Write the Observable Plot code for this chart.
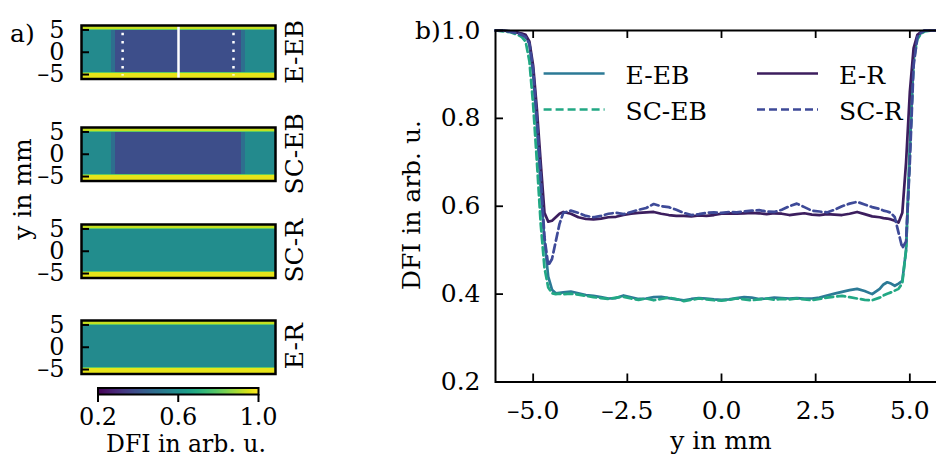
<!DOCTYPE html>
<html><head><meta charset="utf-8">
<script src="https://cdn.jsdelivr.net/npm/d3@7"></script>
<script src="https://cdn.jsdelivr.net/npm/@observablehq/plot@0.6"></script>
<style>
html,body{margin:0;padding:0;background:#fff;overflow:hidden}
#wrap{position:relative;width:936px;height:457px;overflow:hidden;font-family:"DejaVu Serif",serif;background:#fff}
#wrap svg{position:absolute}
</style></head><body><div id="wrap"></div>
<script>
// ---------- panel a data (heat-map strips) ----------
const stripNames = ["E-EB", "SC-EB", "SC-R", "E-R"];
const stripColEdges = [-21.7, -14.9, -14.1, 14.1, 14.9, 21.7];   // along the strip (mm)
const stripRowEdges = [-6, -4.8, -4.5, 4.9, 5.2, 6];             // y in mm
const stripRowBand = [0.97, 0.8, null, 0.8, 0.93];               // DFI of edge bands (null = sample body)
const bodyEEB = [0.58, 0.49, 0.39, 0.49, 0.58];
const bodySCEB = [0.58, 0.49, 0.39, 0.49, 0.58];
const bodySCR = [0.59, 0.59, 0.59, 0.59, 0.59];
const bodyER = [0.58, 0.58, 0.58, 0.58, 0.58];
const stripTicks = [5, 0, -5];
const profileLine = [0];            // solid white marker in E-EB
const markerLines = [-12.5, 12.3];  // dotted white markers in E-EB
const colorbarTicks = [0.2, 0.6, 1.0];

// ---------- panel b data (profiles) ----------
const xs = [-6.0,-5.8,-5.6,-5.4,-5.3,
  -5.2,-5.1,-5.0,-4.9,-4.8,-4.7,-4.6,-4.5,-4.4,-4.3,-4.2,
  -4.0,-3.8,-3.6,-3.4,-3.2,-3.0,-2.8,-2.6,-2.4,-2.2,-2.0,-1.8,-1.6,-1.4,-1.2,-1.0,-0.8,-0.6,-0.4,-0.2,
  0.0,0.2,0.4,0.6,0.8,1.0,1.2,1.4,1.6,1.8,2.0,2.2,2.4,2.6,2.8,3.0,3.2,3.4,3.6,3.8,4.0,
  4.2,4.3,4.4,4.5,4.6,4.7,4.8,4.9,5.0,5.1,5.2,
  5.3,5.4,5.6,5.8,6.0];
const eEB = [1.0,1.0,0.998,0.995,0.992,
  0.988,0.97,0.90,0.78,0.64,0.52,0.44,0.41,0.402,0.403,0.404,
  0.406,0.402,0.398,0.396,0.393,0.390,0.391,0.397,0.393,0.389,0.390,0.393,0.394,0.391,0.388,0.386,0.389,0.391,0.390,0.388,
  0.387,0.388,0.391,0.393,0.392,0.389,0.390,0.392,0.391,0.390,0.391,0.390,0.390,0.392,0.397,0.401,0.405,0.409,0.412,0.407,0.400,
  0.412,0.422,0.427,0.424,0.419,0.424,0.43,0.50,0.74,0.94,0.985,
  0.995,1.0,1.0,1.0,1.0];
const scEB = [1.0,0.998,0.996,0.99,0.985,
  0.975,0.93,0.83,0.70,0.56,0.46,0.415,0.402,0.400,0.401,0.400,
  0.401,0.399,0.396,0.393,0.391,0.389,0.392,0.394,0.390,0.387,0.390,0.386,0.389,0.392,0.389,0.384,0.387,0.390,0.388,0.386,
  0.385,0.387,0.390,0.388,0.386,0.388,0.390,0.387,0.389,0.388,0.390,0.388,0.386,0.389,0.392,0.394,0.396,0.393,0.390,0.387,0.386,
  0.392,0.397,0.401,0.404,0.408,0.412,0.425,0.50,0.72,0.93,0.98,
  0.993,0.998,1.0,1.0,1.0];
const eR = [1.0,1.0,0.998,0.995,0.993,
  0.99,0.975,0.92,0.82,0.70,0.585,0.565,0.567,0.575,0.583,0.587,
  0.583,0.575,0.571,0.570,0.572,0.575,0.576,0.580,0.583,0.585,0.586,0.587,0.583,0.580,0.578,0.578,0.577,0.579,0.578,0.580,
  0.583,0.584,0.583,0.584,0.585,0.584,0.582,0.584,0.583,0.580,0.582,0.584,0.581,0.580,0.582,0.581,0.580,0.583,0.587,0.582,0.577,
  0.575,0.573,0.572,0.570,0.567,0.563,0.585,0.70,0.86,0.96,0.99,
  0.997,1.0,1.0,1.0,1.0];
const scR = [1.0,1.0,0.997,0.993,0.99,
  0.985,0.97,0.91,0.80,0.67,0.53,0.465,0.48,0.52,0.56,0.585,
  0.590,0.585,0.578,0.575,0.578,0.583,0.585,0.582,0.587,0.592,0.596,0.605,0.600,0.598,0.592,0.585,0.580,0.582,0.585,0.586,
  0.585,0.587,0.586,0.588,0.590,0.591,0.588,0.587,0.592,0.600,0.606,0.598,0.590,0.588,0.586,0.592,0.600,0.606,0.610,0.604,0.598,
  0.594,0.590,0.588,0.585,0.575,0.54,0.505,0.52,0.70,0.92,0.985,
  0.995,1.0,1.0,1.0,1.0];
const seriesNames = ["E-EB", "SC-EB", "E-R", "SC-R"];
const seriesValues = [eEB, scEB, eR, scR];
const seriesColors = ["#2c7a96", "#22a884", "#3c1e5e", "#3e4a98"];
const seriesDash = [null, "8,4", null, "8,4"];
const xTicks = [-5, -2.5, 0, 2.5, 5];
const yTicks = [0.2, 0.4, 0.6, 0.8, 1.0];

const wrap = document.getElementById("wrap");
const FONT = {fontFamily: "DejaVu Serif", fontSize: "25px", background: "transparent", overflow: "visible", color: "black"};
function place(el, left, top) { el.style.position = "absolute"; el.style.left = left + "px"; el.style.top = top + "px"; wrap.appendChild(el); }
const viridis = {type: "linear", scheme: "viridis", domain: [0.2, 1.0]};
// minus sign drawn as an en dash (narrow, as in the reference typeface)
const fmt = (spec) => { const f = d3.format(spec); return d => (d < 0 ? "\u2013" : "") + f(Math.abs(d)); };

// ---------- strips ----------
const stripBodies = [bodyEEB, bodySCEB, bodySCR, bodyER];
const stripTops = [25, 127, 224, 319.5];
const SW = 194, SH = 53.5, SL = 81;
stripNames.forEach((name, k) => {
  const body = stripBodies[k];
  const cells = [];
  for (let r = 0; r < stripRowEdges.length - 1; r++)
    for (let c = 0; c < stripColEdges.length - 1; c++)
      cells.push({x1: stripColEdges[c], x2: stripColEdges[c + 1], y1: stripRowEdges[r], y2: stripRowEdges[r + 1],
                  v: stripRowBand[r] ?? body[c]});
  const extra = k === 0 ? [
    Plot.ruleX(profileLine, {x: d => d, y1: 6, y2: -6, stroke: "white", strokeWidth: 2.5}),
    Plot.ruleX(markerLines, {x: d => d, y1: 4.25, y2: -5.3, stroke: "white", strokeWidth: 2.5, strokeDasharray: "2.5,5.8"})
  ] : [];
  const p = Plot.plot({
    width: SL + SW + 30, height: SH + 24, marginLeft: SL, marginRight: 30, marginTop: 12, marginBottom: 12,
    style: FONT,
    x: {domain: [stripColEdges[0], stripColEdges[stripColEdges.length - 1]], axis: null},
    y: {domain: [-6, 6]},
    color: viridis,
    marks: [
      Plot.rect(cells, {x1: "x1", x2: "x2", y1: "y1", y2: "y2", fill: "v", shapeRendering: "crispEdges"}),
      ...extra,
      Plot.ruleY(stripTicks, {y: d => d, x1: stripColEdges[0], x2: stripColEdges[stripColEdges.length - 1], insetRight: SW - 8, stroke: "black", strokeWidth: 2}),
      Plot.frame({stroke: "black", strokeWidth: 2.5}),
      Plot.axisY(stripTicks, {tickSize: 0, tickPadding: 17, fontSize: 24, tickFormat: fmt("d"), label: null})
    ]
  });
  place(p, 0, stripTops[k] - 12);
});

// ---------- colorbar ----------
const cbStep = 0.005;
const cbStops = d3.range(0.2, 1.0 - cbStep / 2, cbStep);
const cb = Plot.plot({
  width: 300, height: 70, marginLeft: 97.5, marginRight: 42, marginTop: 12.5, marginBottom: 51,
  style: FONT,
  x: {domain: [0.2, 1.0]}, y: {domain: [0, 1], axis: null},
  color: viridis,
  marks: [
    Plot.rect(cbStops, {x1: d => d, x2: d => d + cbStep, y1: 0, y2: 1, fill: d => d + cbStep / 2, shapeRendering: "crispEdges"}),
    Plot.frame({stroke: "black", strokeWidth: 2}),
    Plot.axisX(colorbarTicks, {tickSize: 8, tickPadding: 5, fontSize: 24, strokeWidth: 2, tickFormat: d3.format(".1f"), label: null})
  ]
});
place(cb, 0, 375);

// ---------- panel b ----------
const BW = 452, BH = 351.5;
const lineMarks = seriesNames.map((name, i) =>
  Plot.line(xs.map((x, j) => ({x, y: seriesValues[i][j]})), {
    x: "x", y: "y", stroke: seriesColors[i], strokeWidth: 2.7,
    strokeDasharray: seriesDash[i] ?? undefined, strokeLinejoin: "round"
  }));
const pb = Plot.plot({
  width: 547, height: 457, marginLeft: 95, marginRight: 0, marginTop: 30, marginBottom: 75.5,
  style: FONT,
  x: {domain: [-6, 6]}, y: {domain: [0.2, 1.0]},
  marks: [
    ...lineMarks,
    Plot.ruleX(xTicks, {x: d => d, y1: 1.0, y2: 0.2, insetTop: BH - 8, stroke: "black", strokeWidth: 1.8}),
    Plot.ruleX(xTicks, {x: d => d, y1: 1.0, y2: 0.2, insetBottom: BH - 8, stroke: "black", strokeWidth: 1.8}),
    Plot.ruleY(yTicks, {y: d => d, x1: -6, x2: 6, insetRight: BW - 8, stroke: "black", strokeWidth: 1.8}),
    Plot.frame({stroke: "black", strokeWidth: 2}),
    Plot.axisX(xTicks, {tickSize: 0, tickPadding: 19, fontSize: 25, tickFormat: fmt(".1f"), label: null}),
    Plot.axisY(yTicks, {tickSize: 0, tickPadding: 15, fontSize: 25, tickFormat: d3.format(".1f"), label: null})
  ]
});
place(pb, 400, 0);

// ---------- labels & legend overlay ----------
const NS = "http://www.w3.org/2000/svg";
const ov = document.createElementNS(NS, "svg");
ov.setAttribute("width", 936); ov.setAttribute("height", 457);
ov.style.left = "0px"; ov.style.top = "0px"; ov.style.pointerEvents = "none";
ov.setAttribute("font-family", "DejaVu Serif"); ov.setAttribute("font-size", 25);
function txt(s, x, y, anchor, rot, size) {
  const t = document.createElementNS(NS, "text");
  t.textContent = s;
  t.setAttribute("text-anchor", anchor || "start");
  if (size) t.setAttribute("font-size", size);
  t.setAttribute("transform", `translate(${x},${y})` + (rot ? ` rotate(${rot})` : ""));
  ov.appendChild(t);
}
txt("a)", 10, 41.5);
txt("y in mm", 31, 189, "middle", -90);
const stripCenters = stripTops.map(t => t + SH / 2);
stripNames.forEach((n, k) => txt(n, 303, stripCenters[k], "middle", -90));
txt("DFI in arb. u.", 186, 451.5, "middle", 0, 23.5);
txt("b)", 415, 39);
txt("DFI in arb. u.", 420, 205, "middle", -90);
txt("y in mm", 721, 449, "middle");
// legend (two columns)
const legPos = [[543.6, 73.5], [543.6, 109.5], [757, 73.5], [757, 109.5]];
seriesNames.forEach((n, i) => {
  const [lx, ly] = legPos[i];
  const l = document.createElementNS(NS, "line");
  l.setAttribute("x1", lx); l.setAttribute("x2", lx + 61); l.setAttribute("y1", ly); l.setAttribute("y2", ly);
  l.setAttribute("stroke", seriesColors[i]); l.setAttribute("stroke-width", 2.7);
  if (seriesDash[i]) l.setAttribute("stroke-dasharray", seriesDash[i]);
  ov.appendChild(l);
  txt(n, lx + 82, ly + 10.3);
});
wrap.appendChild(ov);
</script></body></html>
